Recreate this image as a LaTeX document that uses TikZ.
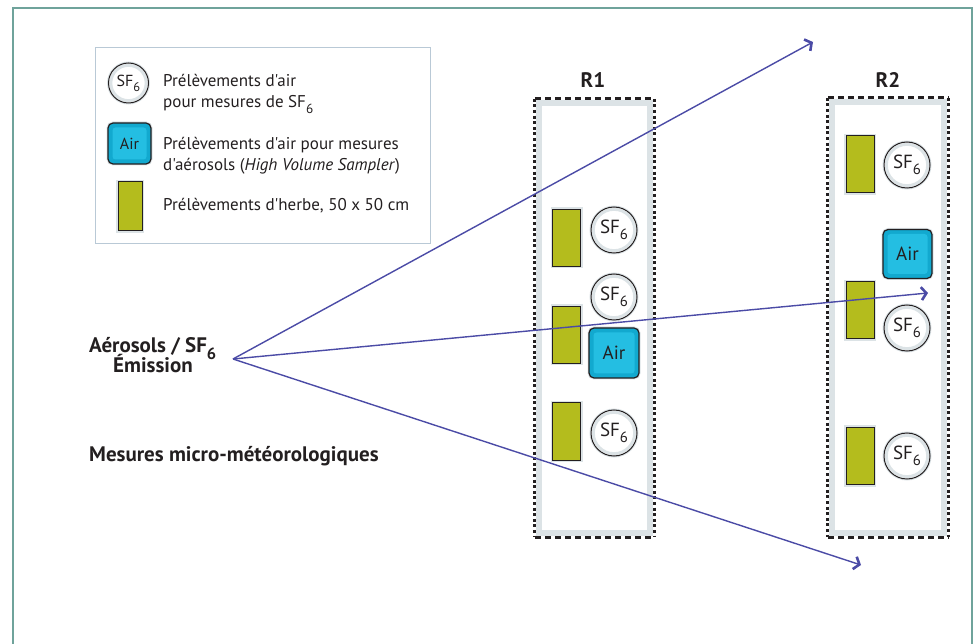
\documentclass[tikz,border=0pt]{standalone}
\usepackage{fontspec}
\usepackage{graphicx}
\setmainfont{PT Sans}[Ligatures=TeXOff]
\usetikzlibrary{arrows.meta}

\definecolor{framecol}{HTML}{6FA39B}
\definecolor{legline}{HTML}{B9C9D6}
\definecolor{halo}{HTML}{DCE3E6}
\definecolor{grass}{HTML}{B4BC1D}
\definecolor{aircol}{HTML}{12A9CF}
\definecolor{airin}{HTML}{24BEE2}
\definecolor{flow}{HTML}{4B4BA6}
\definecolor{ink}{HTML}{231F20}

\newcommand\sfsix{SF\raisebox{-0.3em}{\scalebox{0.78}{6}}}
\newcommand\fsz[1]{\fontsize{#1}{#1}\selectfont}

\tikzset{
  grassbox/.style={draw=ink, line width=1, fill=grass, inner sep=0,
    preaction={draw=halo, line width=4}},
  sfcircle/.style={circle, draw=ink, line width=1, fill=white, inner sep=0,
    minimum size=#1, text=ink,
    preaction={draw=halo, line width=3},
    path picture={\draw[halo, line width=3]
      (path picture bounding box.center) circle[radius=(#1/2-2.3)*1pt];}},
  airbox/.style={rounded corners=5, draw=ink, line width=1.2, fill=aircol,
    inner sep=0, text=ink,
    preaction={draw=halo, line width=3},
    path picture={\fill[airin, rounded corners=3]
      ([shift={(4.5pt,4.5pt)}]path picture bounding box.south west) rectangle
      ([shift={(-4.5pt,-4.5pt)}]path picture bounding box.north east);}},
  zone/.style={inner sep=0, minimum width=#1},
  hdash/.style={ink, line width=3, dash pattern=on 6 off 4},
  vdash/.style={ink, line width=3, dash pattern=on 3 off 2.6},
  band/.style={halo, line width=6},
  legtext/.style={anchor=base west, inner sep=0, text=ink, font=\fsz{17}},
  bigtext/.style={anchor=base west, inner sep=0, text=ink, font=\bfseries\fsz{21}},
  zonelabel/.style={anchor=base, inner sep=0, text=ink, font=\bfseries\fsz{21}},
  flowarrow/.style={flow, line width=1.4,
    -{Straight Barb[length=5pt, width=13pt, line width=2.6pt]}},
}

\begin{document}
\begin{tikzpicture}[x=1pt, y=-1pt]
\useasboundingbox (0,0) rectangle (978,644);

% outer frame, open at the bottom
\draw[framecol, line width=2] (13,644) -- (13,8) -- (972,8) -- (972,644);

% legend
\node[draw=legline, line width=1, minimum width=335, minimum height=196,
      inner sep=0, anchor=north west] (legend) at (95,47) {};
\node[sfcircle=40, font=\fsz{16}] (lsf) at (128.5,83) {\sfsix};
\node[airbox, minimum width=43, minimum height=41, font=\fsz{16}] (lair) at (129.5,143.5) {Air};
\node[grassbox, minimum width=24, minimum height=49] (lgrass) at (130,206.5) {};
\node[legtext] (lt1a) at (163,87) {Prélèvements d'air};
\node[legtext] (lt1b) at (163,108) {pour mesures de \sfsix};
\node[legtext] (lt2a) at (163,150) {Prélèvements d'air pour mesures};
\node[legtext] (lt2b) at (163,171) {d'aérosols (\textit{High Volume Sampler})};
\node[legtext] (lt3) at (163,211) {Prélèvements d'herbe, 50 x 50 cm};

% source and its labels
\node[bigtext] (emis1) at (89,353) {Aérosols / \sfsix};
\node[bigtext] (emis2) at (113,373) {Émission};
\node[bigtext] (meteo) at (89,461) {Mesures micro-météorologiques};

% sampling zones
\node[zone=119, minimum height=438] (r1) at (594.5,318) {};
\node[zone=120, minimum height=439] (r2) at (888,317.5) {};
\foreach \z in {r1,r2}{
  \draw[band] ([shift={(4pt,-4pt)}]\z.north west) rectangle ([shift={(-4pt,4pt)}]\z.south east);
  \draw[hdash] (\z.north west) -- (\z.north east);
  \draw[hdash] (\z.south west) -- (\z.south east);
  \draw[vdash] (\z.north west) -- (\z.south west);
  \draw[vdash] (\z.north east) -- (\z.south east);
}
\node[zonelabel] (r1lab) at (593,88) {R1};
\node[zonelabel] (r2lab) at (888,88) {R2};

% zone R1
\node[grassbox, minimum width=28, minimum height=57] (g11) at (566.5,238) {};
\node[grassbox, minimum width=28, minimum height=57] (g12) at (566.5,335) {};
\node[grassbox, minimum width=28, minimum height=57] (g13) at (566.5,431.5) {};
\node[sfcircle=46, font=\fsz{19}] (s11) at (614,230) {\sfsix};
\node[sfcircle=46, font=\fsz{19}] (s12) at (614,297) {\sfsix};
\node[sfcircle=46, font=\fsz{19}] (s13) at (614,433) {\sfsix};
\node[airbox, minimum size=50, font=\fsz{19}] (a1) at (614,353) {Air};

% zone R2
\node[grassbox, minimum width=28, minimum height=57] (g21) at (860,164.5) {};
\node[grassbox, minimum width=28, minimum height=57] (g22) at (860,310.5) {};
\node[grassbox, minimum width=28, minimum height=57] (g23) at (860,456) {};
\node[sfcircle=46, font=\fsz{19}] (s21) at (907,165) {\sfsix};
\node[sfcircle=46, font=\fsz{19}] (s22) at (907,328) {\sfsix};
\node[sfcircle=46, font=\fsz{19}] (s23) at (907,456) {\sfsix};
\node[airbox, minimum size=49, font=\fsz{19}] (a2) at (907.5,254) {Air};

% dispersion directions
\coordinate (src) at (233,359);
\coordinate (t1) at (813,42);
\coordinate (t2) at (928,293);
\coordinate (t3) at (861,565);
\draw[flowarrow] (src) -- (t1);
\draw[flowarrow] (src) -- (t2);
\draw[flowarrow] (src) -- (t3);
\end{tikzpicture}
\end{document}
